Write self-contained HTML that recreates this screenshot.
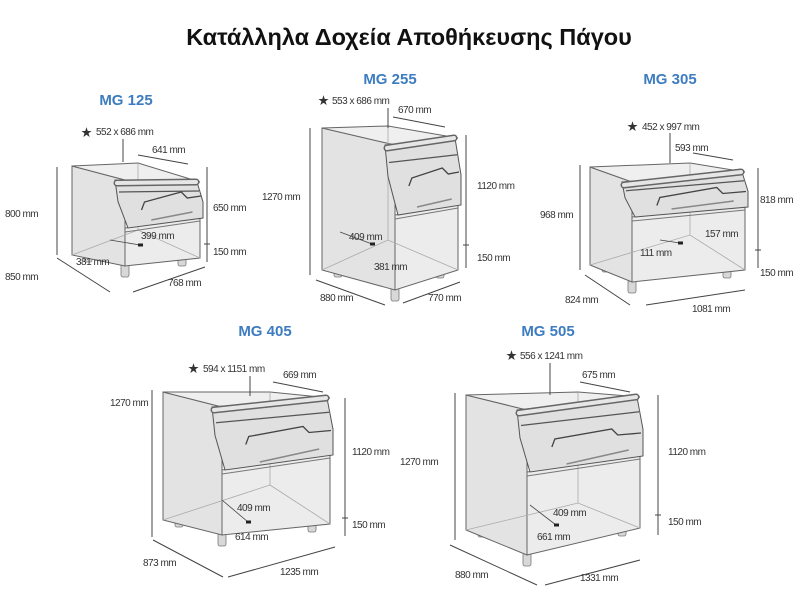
<!DOCTYPE html>
<html><head><meta charset="utf-8"><style>
html,body{margin:0;padding:0;background:#fff;}
svg{display:block;}
text{font-family:"Liberation Sans","Noto Sans CJK SC",sans-serif;fill:#333;font-size:10px;letter-spacing:-0.5px;}
.t{font-size:23.5px;font-weight:bold;fill:#111;letter-spacing:0;}
.m{font-size:15px;font-weight:bold;fill:#3d7cc0;letter-spacing:0;}
.d{stroke:#444;stroke-width:1;fill:none;}
</style></head><body>
<svg id="s" width="800" height="600" viewBox="0 0 800 600" xmlns="http://www.w3.org/2000/svg">
<text class="t" x="409" y="45" text-anchor="middle">Κατάλληλα Δοχεία Αποθήκευσης Πάγου</text>
<g id="bins"></g>

<!-- MG125 -->
<text class="m" x="126" y="105" text-anchor="middle">MG 125</text>
<text x="81" y="136" style="font-size:11px">★</text><text x="96" y="135">552 x 686 mm</text>
<path class="d" d="M123 139V162M57 167V255M207 167V262M204 244h6M57 258L110 292M133 292L205 267M138 155L188 164"/>
<text x="152" y="153">641 mm</text>
<text x="5" y="217">800 mm</text><text x="213" y="211">650 mm</text><text x="213" y="255">150 mm</text>
<text x="5" y="280">850 mm</text><text x="168" y="286">768 mm</text>
<text x="141" y="239">399 mm</text><text x="76" y="265">381 mm</text>

<!-- MG255 -->
<text class="m" x="390" y="84" text-anchor="middle">MG 255</text>
<text x="318" y="104" style="font-size:11px">★</text><text x="332" y="104">553 x 686 mm</text>
<path class="d" d="M388 108V128M310 128V275M466 135V268M463 245h6M316 280L385 305M403 303L460 282M393 117L445 127"/>
<text x="398" y="113">670 mm</text>
<text x="262" y="200">1270 mm</text><text x="477" y="189">1120 mm</text><text x="477" y="261">150 mm</text>
<text x="320" y="301">880 mm</text><text x="428" y="301">770 mm</text>
<text x="349" y="240">409 mm</text><text x="374" y="270">381 mm</text>

<!-- MG305 -->
<text class="m" x="670" y="84" text-anchor="middle">MG 305</text>
<text x="627" y="130" style="font-size:11px">★</text><text x="642" y="130">452 x 997 mm</text>
<path class="d" d="M670 133V163M580 165V270M758 168V268M755 250h6M585 275L630 305M646 305L745 290M693 153L733 160"/>
<text x="675" y="151">593 mm</text>
<text x="540" y="218">968 mm</text><text x="760" y="203">818 mm</text><text x="760" y="276">150 mm</text>
<text x="565" y="303">824 mm</text><text x="692" y="312">1081 mm</text>
<text x="705" y="237">157 mm</text><text x="640" y="256">111 mm</text>

<!-- MG405 -->
<text class="m" x="265" y="336" text-anchor="middle">MG 405</text>
<text x="188" y="372" style="font-size:11px">★</text><text x="203" y="372">594 x 1151 mm</text>
<path class="d" d="M250 376V396M152 390V537M345 398V536M342 518h6M153 540L223 577M228 577L335 547M273 382L323 392"/>
<text x="283" y="378">669 mm</text>
<text x="110" y="406">1270 mm</text><text x="352" y="455">1120 mm</text><text x="352" y="528">150 mm</text>
<text x="143" y="566">873 mm</text><text x="280" y="575">1235 mm</text>
<text x="237" y="511">409 mm</text><text x="235" y="540">614 mm</text>

<!-- MG505 -->
<text class="m" x="548" y="336" text-anchor="middle">MG 505</text>
<text x="506" y="359" style="font-size:11px">★</text><text x="520" y="359">556 x 1241 mm</text>
<path class="d" d="M550 363V395M455 393V540M658 395V535M655 515h6M450 545L537 585M545 585L640 560M580 382L630 392"/>
<text x="582" y="378">675 mm</text>
<text x="400" y="465">1270 mm</text><text x="668" y="455">1120 mm</text><text x="668" y="525">150 mm</text>
<text x="455" y="578">880 mm</text><text x="580" y="581">1331 mm</text>
<text x="553" y="516">409 mm</text><text x="537" y="540">661 mm</text>
</svg>
<script>
var bins=[
 {BL:[72,166],BLb:255,FL:[125,180],FLb:266,FR:[200,182],FRb:258,BR:[138,163],BRb:230,hL:228,hR:218,a:[140,245,110,240]},
 {BL:[322,128],BLb:270,FL:[395,145],FLb:290,FR:[458,138],FRb:270,BR:[388,126],BRb:240,hL:215,hR:205,a:[372,244,340,232]},
 {BL:[590,167],BLb:265,FL:[632,182],FLb:282,FR:[745,172],FRb:270,BR:[690,163],BRb:235,hL:217,hR:207,a:[680,243,660,240]},
 {BL:[163,392],BLb:520,FL:[222,407],FLb:535,FR:[330,398],FRb:524,BR:[270,392],BRb:485,hL:470,hR:455,a:[248,522,222,500]},
 {BL:[466,395],BLb:530,FL:[527,410],FLb:555,FR:[640,397],FRb:528,BR:[578,392],BRb:503,hL:472,hR:456,a:[556,525,530,505]}
];
var h='';
function P(a){return a.map(function(p){return p[0]+','+p[1]}).join(' ');}
bins.forEach(function(b){
 var BL=b.BL,FL=b.FL,FR=b.FR,BR=b.BR;
 [[FL[0],b.FLb],[BL[0]+16,b.BLb-4],[FR[0]-18,b.FRb-3]].forEach(function(p){
  h+='<rect x="'+(p[0]-4)+'" y="'+(p[1]-2)+'" width="8" height="13" rx="2" fill="#d8d8d8" stroke="#777" stroke-width="0.8"/>';
 });
 h+='<polygon points="'+P([BL,FL,[FL[0],b.FLb],[BL[0],b.BLb]])+'" fill="#e3e3e3" stroke="#666" stroke-width="1"/>';
 h+='<polygon points="'+P([[FL[0],b.hL],[FR[0],b.hR],[FR[0],b.FRb],[FL[0],b.FLb]])+'" fill="#ececec" stroke="#666" stroke-width="1"/>';
 h+='<polygon points="'+P([BL,BR,FR,FL])+'" fill="#efefef" stroke="#666" stroke-width="1"/>';
 h+='<path d="M'+BR[0]+' '+BR[1]+'V'+b.BRb+'M'+BL[0]+' '+b.BLb+'L'+BR[0]+' '+b.BRb+'L'+FR[0]+' '+b.FRb+'" stroke="#aaa" stroke-width="0.8" fill="none"/>';
 var w=FR[0]-FL[0];
 var hood=[[FL[0]-10,FL[1]],[FR[0]-3,FR[1]],[FR[0]+3,FR[1]+(b.hR-FR[1])*0.55],[FR[0]+3,b.hR],[FL[0]+3,b.hL],[FL[0]-7,FL[1]+(b.hL-FL[1])*0.45]];
 h+='<polygon points="'+P(hood)+'" fill="#e0e0e0" stroke="#555" stroke-width="1"/>';
 var y1=FL[1]+(b.hL-FL[1])*0.25,y2=FR[1]+(b.hR-FR[1])*0.25;
 h+='<path d="M'+(FL[0]-6)+' '+y1+'L'+(FR[0]-1)+' '+y2+'" stroke="#555" stroke-width="1.2" fill="none"/>';
 var ny=FL[1]+(b.hL-FL[1])*0.5;
 h+='<path d="M'+(FL[0]+0.22*w)+' '+(ny+6)+'l3 -8L'+(FR[0]-0.25*w)+' '+(ny-12)+'l6 6L'+(FR[0]+1)+' '+(ny-8)+'" stroke="#444" stroke-width="1.3" fill="none"/>';
 h+='<path d="M'+(FL[0]+0.35*w)+' '+(b.hL-8)+'L'+(FR[0]-0.1*w)+' '+(b.hR-6)+'" stroke="#888" stroke-width="1.5"/>';
 h+='<path d="M'+FL[0]+' '+(b.hL+4)+'L'+FR[0]+' '+(b.hR+3)+'" stroke="#777" stroke-width="1"/>';
 h+='<path d="M'+(FL[0]-8)+' '+(FL[1]+3)+'L'+(FR[0]-4)+' '+(FR[1])+'" stroke="#666" stroke-width="7" stroke-linecap="round"/>';
 h+='<path d="M'+(FL[0]-8)+' '+(FL[1]+3)+'L'+(FR[0]-4)+' '+(FR[1])+'" stroke="#e6e6e6" stroke-width="4" stroke-linecap="round"/>';
 var a=b.a;
 h+='<path d="M'+a[2]+' '+a[3]+'L'+a[0]+' '+a[1]+'" stroke="#444" stroke-width="0.8"/><rect x="'+(a[0]-2)+'" y="'+(a[1]-1.5)+'" width="5" height="3" fill="#222"/>';
});
document.getElementById('bins').innerHTML=h;
</script>
</body></html>
